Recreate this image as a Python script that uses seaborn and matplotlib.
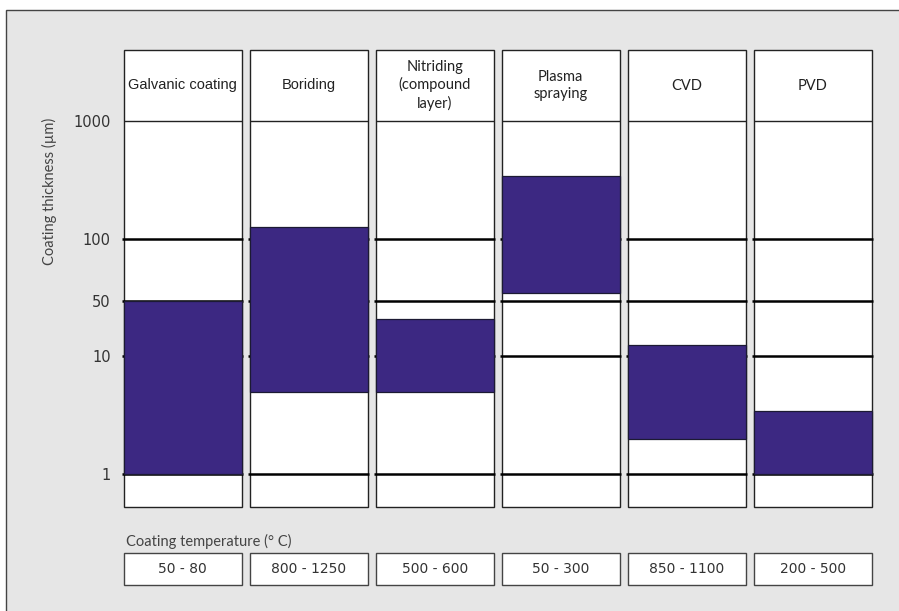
import numpy as np
import matplotlib
matplotlib.use("Agg")
import matplotlib.pyplot as plt
import matplotlib.transforms as mtrans
from matplotlib.patches import Rectangle
import pandas as pd
import seaborn as sns

# ---------------- data ----------------
processes = ["Galvanic coating", "Boriding", "Nitriding\n(compound\nlayer)",
             "Plasma\nspraying", "CVD", "PVD"]
thickness_min = [1, 5, 5, 55, 2, 1]
thickness_max = [50, 125, 30, 340, 14, 3.4]
temperatures = ["50 - 80", "800 - 1250", "500 - 600", "50 - 300", "850 - 1100", "200 - 500"]
y_ticks = [1, 10, 50, 100, 1000]
y_tick_labels = ["1", "10", "50", "100", "1000"]
y_tick_positions = [0, 1, 1.467, 2, 3]   # the chart's own (non-uniform) axis spacing
grid_values = [1, 10, 50, 100]

# ---------------- style ----------------
sns.set_theme(style="white")
plt.rcParams["font.family"] = ["DejaVu Sans"]

W, H = 899, 611
BAR_COLOR = "#3c2882"
BG = "#e6e6e6"

fig = plt.figure(figsize=(W / 100, H / 100), dpi=100)
fig.patch.set_facecolor("white")


def px(x0, y0, x1, y1):
    return [x0 / W, 1 - y1 / H, (x1 - x0) / W, (y1 - y0) / H]


# grey background panel
fig.add_artist(Rectangle((6 / W, -0.02), (W + 10 - 6) / W, (H - 10) / H + 0.02,
                         transform=fig.transFigure, facecolor=BG,
                         edgecolor="#444444", lw=1.0, zorder=-5))

# custom axis scale (piecewise in log space)
knots_log = np.array([-3.0, 0.0, 1.0, np.log10(50), 2.0, 3.0, 6.0])
knots_pos = np.array([-3.0] + y_tick_positions + [6.0])


def fwd(v):
    v = np.asarray(v, dtype=float)
    lv = np.log10(np.clip(v, 1e-3, None))
    return np.interp(lv, knots_log, knots_pos)


def inv(p):
    p = np.asarray(p, dtype=float)
    return 10 ** np.interp(p, knots_pos, knots_log)


UNIT = 117.7
Y1 = 474.0
top_px, bot_px = 50.0, 506.5
ymin = float(inv(-(bot_px - Y1) / UNIT))
ymax = float(inv((Y1 - top_px) / UNIT))

ax = fig.add_axes(px(119.8, top_px, 875.8, bot_px))
ax.set_facecolor("none")
ax.set_yscale("function", functions=(fwd, inv))

n = len(processes)
PW = 0.94
xs = np.arange(n)

df = pd.DataFrame({
    "process": processes,
    "span": np.array(thickness_max) - np.array(thickness_min),
})
sns.barplot(data=df, x="process", y="span", order=processes, ax=ax,
            bottom=thickness_min, width=PW, color=BAR_COLOR, saturation=1,
            edgecolor="#1c1a33", linewidth=0.9, errorbar=None, zorder=3)

# white panels
ax.bar(xs, ymax - ymin, bottom=ymin, width=PW, color="white",
       edgecolor="#222222", linewidth=1.0, clip_on=False, zorder=1)

# grid lines inside each panel
for i in xs:
    ax.hlines(grid_values, i - PW / 2 - 0.01, i + PW / 2 + 0.01,
              color="black", lw=1.8, zorder=2)
    ax.hlines([1000], i - PW / 2, i + PW / 2, color="#222222", lw=1.0, zorder=2)

ax.set_xlim(-0.5, n - 0.5)
ax.set_ylim(ymin, ymax)
ax.set_yticks(y_ticks)
ax.set_yticklabels(y_tick_labels)
ax.tick_params(axis="y", length=0, pad=6.5, labelsize=10.5, labelcolor="#333333")
ax.tick_params(axis="x", bottom=False, labelbottom=False)
ax.minorticks_off()
ax.set_xlabel("")
ax.set_ylabel("")
for s in ax.spines.values():
    s.set_visible(False)
ax.grid(False)

# header labels
trans = mtrans.blended_transform_factory(ax.transData, ax.transAxes)
head_y = (bot_px - 85.5) / (bot_px - top_px)
head_fonts = ["Liberation Sans", "Liberation Sans", "Lato", "Lato", "Lato", "Lato"]
for i, (lab, fam) in enumerate(zip(processes, head_fonts)):
    ax.text(i, head_y, lab, transform=trans, ha="center", va="center",
            fontsize=10.5, family=fam,
            color="#222222", linespacing=1.25, zorder=5)

# temperature row
ax2 = fig.add_axes(px(119.8, 553.3, 875.8, 585))
ax2.set_facecolor("none")
ax2.bar(xs, 1, bottom=0, width=PW, color="white", edgecolor="#444444",
        linewidth=1.0, clip_on=False)
for i, t in enumerate(temperatures):
    ax2.text(i, 0.5, t, ha="center", va="center", fontsize=10,
             family="DejaVu Sans", color="#333333")
ax2.set_xlim(-0.5, n - 0.5)
ax2.set_ylim(0, 1)
ax2.axis("off")

fig.text(126 / W, 1 - 541 / H, "Coating temperature (° C)", ha="left", va="center",
         fontsize=10.5, family="Lato", color="#444444")
fig.text(49 / W, 1 - 191 / H, "Coating thickness (µm)", ha="center", va="center",
         rotation=90, fontsize=10.5, family="Lato", color="#444444")

fig.savefig("out.png", dpi=100)
